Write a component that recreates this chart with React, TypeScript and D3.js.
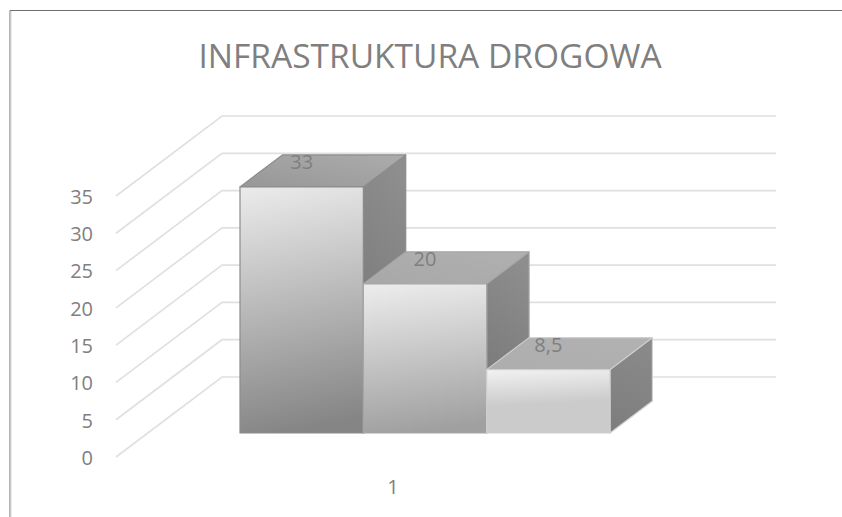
import React from "react";
import * as d3 from "d3";

const title = "INFRASTRUKTURA DROGOWA";
const seriesValues = [33, 20, 8.5];
const seriesLabels = ["33", "20", "8,5"];
const seriesIds = ["a", "b", "c"];
const yTicks = [0, 5, 10, 15, 20, 25, 30, 35];
const category = "1";
const frontColors = [
  ["#e9e9e9", "#858585"],
  ["#ebebeb", "#a0a0a0"],
  ["#f0f0f0", "#cbcbcb"],
];
const topColors = [
  ["#979797", "#acacac"],
  ["#a8a8a8", "#b0b0b0"],
  ["#adadad", "#b2b2b2"],
];
const sideColors = [
  ["#8e8e8e", "#747474"],
  ["#8e8e8e", "#757575"],
  ["#8a8a8a", "#7e7e7e"],
];
const edgeColors = ["#8c8c8c", "#a6a6a6", "#cfcfcf"];

const FONT = "'Open Sans', sans-serif";
const TEXT = "#7f7f7f";

export default function App() {
  const y = d3.scaleLinear().domain([0, 35]).range([457, 196]);
  const band = d3.scaleBand().domain(seriesIds).range([240, 610]).padding(0);
  const depth = d3.scaleLinear().domain([0, 1]).range([0, 1]);
  const dx = (t: number) => depth(t) * 106;
  const dy = (t: number) => depth(t) * -80;
  const frontT = 0.3;
  const backT = 0.7;
  const left = 116;
  const right = 776 - 106;
  const poly = (pts: [number, number][]) => (d3.line()(pts) ?? "") + "Z";

  return (
    <svg
      width={842}
      height={517}
      style={{ position: "absolute", left: 0, top: 0, background: "#fff" }}
      fontFamily={FONT}
    >
      <defs>
        {seriesIds.map((id, i) => (
          <React.Fragment key={id}>
            <linearGradient id={`front-${id}`} x1="0.25" y1="0" x2="0.35" y2="1">
              <stop offset="0" stopColor={frontColors[i][0]} />
              <stop offset={i === 2 ? "0.55" : "1"} stopColor={frontColors[i][1]} />
            </linearGradient>
            <linearGradient id={`top-${id}`} x1="0" y1="1" x2="1" y2="0">
              <stop offset="0" stopColor={topColors[i][0]} />
              <stop offset="1" stopColor={topColors[i][1]} />
            </linearGradient>
            <linearGradient id={`side-${id}`} x1="0.6" y1="0" x2="0.4" y2="1">
              <stop offset="0" stopColor={sideColors[i][0]} />
              <stop offset="1" stopColor={sideColors[i][1]} />
            </linearGradient>
          </React.Fragment>
        ))}
      </defs>

      <path d="M10,517V10.5H842" fill="none" stroke="#6f6f6f" strokeWidth={1} />
      <line x1={11} x2={11} y1={11} y2={517} stroke="#d9d9d9" strokeWidth={1} />

      <text x={430} y={68} textAnchor="middle" fontSize={33.5} fill={TEXT}>
        {title}
      </text>

      {yTicks.map((t) => (
        <g key={t}>
          <path
            d={
              d3.line()([
                [left, y(t)],
                [left + dx(1), y(t) + dy(1)],
                [right + dx(1), y(t) + dy(1)],
              ]) ?? ""
            }
            fill="none"
            stroke="#e0e0e0"
            strokeWidth={1.7}
          />
          <text x={93} y={y(t) + 7.8} textAnchor="end" fontSize={20} fill={TEXT}>
            {t}
          </text>
        </g>
      ))}

      {seriesIds.map((id, i) => {
        const x0 = band(id)!;
        const x1 = x0 + band.bandwidth();
        const base = y(0) + dy(frontT);
        const h = y(0) - y(seriesValues[i]);
        const top = base - h;
        const ox = dx(backT) - dx(frontT);
        const oy = dy(backT) - dy(frontT);
        return (
          <g key={id} stroke={edgeColors[i]} strokeWidth={1.2} strokeLinejoin="round">
            <path
              d={poly([
                [x1, top],
                [x1 + ox, top + oy],
                [x1 + ox, base + oy],
                [x1, base],
              ])}
              fill={`url(#side-${id})`}
            />
            <path
              d={poly([
                [x0, top],
                [x0 + ox, top + oy],
                [x1 + ox, top + oy],
                [x1, top],
              ])}
              fill={`url(#top-${id})`}
            />
            <rect x={x0} y={top} width={x1 - x0} height={h} fill={`url(#front-${id})`} />
          </g>
        );
      })}

      {seriesIds.map((id, i) => {
        const cx = band(id)! + band.bandwidth() / 2;
        const top = y(seriesValues[i]) + dy(frontT);
        return (
          <text key={id} x={cx} y={top - 18} textAnchor="middle" fontSize={20} fill={TEXT}>
            {seriesLabels[i]}
          </text>
        );
      })}

      <text x={393} y={494} textAnchor="middle" fontSize={20} fill={TEXT}>
        {category}
      </text>
    </svg>
  );
}
